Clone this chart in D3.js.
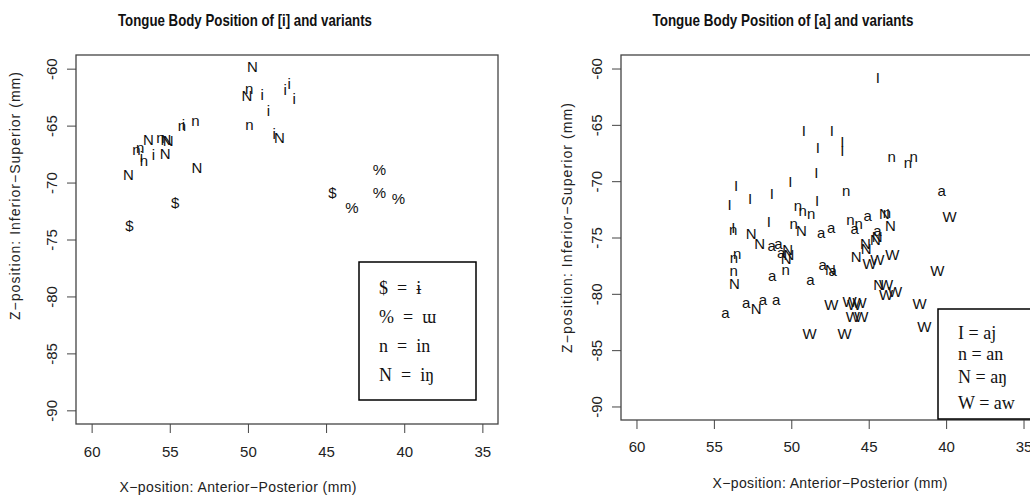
<!DOCTYPE html>
<html>
<head>
<meta charset="utf-8">
<script src="https://cdn.jsdelivr.net/npm/d3@7"></script>
<style>
  body { margin: 0; background: #fff; }
  svg { display: block; }
  .tick text { font-family: "Liberation Sans", Arial, sans-serif; font-size: 15px; fill: #222; }
  .tick line { stroke: #444; }
</style>
</head>
<body>
<script>
// [i] plot: label -> [x, z] positions (mm)
var iPts = [[49.09,-62.31],[47.62,-61.87],[47.36,-61.28],[47.04,-62.6],[48.69,-63.68],
            [48.32,-65.66],[54.13,-64.93],[56.05,-67.56],[56.81,-67.74]];
var inPts = [[49.92,-61.72],[49.91,-64.93],[53.36,-64.52],[54.23,-65.02],[55.6,-66.01],
             [57.13,-67.08],[56.9,-66.95],[56.65,-68.09]];
var ingPts = [[49.71,-59.83],[50.07,-62.39],[47.98,-66.05],[53.27,-68.73],[56.37,-66.25],
              [55.24,-66.25],[55.11,-66.34],[55.3,-67.5],[57.65,-69.32]];
var barredIPts = [[54.66,-71.74],[57.59,-73.79],[44.59,-70.92]];
var uuPts = [[41.58,-68.82],[41.58,-70.87],[40.37,-71.42],[43.35,-72.18]];

// [a] plot
var ajPts = [[44.41,-60.82],[53.56,-70.35],[53.99,-72.06],[52.66,-71.59],[51.26,-71.09],
             [50.07,-70.06],[49.19,-65.49],[47.38,-65.55],[48.29,-67.02],[46.71,-66.52],
             [46.71,-67.26],[48.39,-69.23],[48.33,-71.74],[51.45,-73.6],[53.75,-74.1]];
var anPts = [[43.51,-67.85],[42.47,-68.38],[42.09,-67.79],[46.45,-70.86],[49.58,-72.21],
             [49.26,-72.57],[48.71,-72.92],[49.84,-73.74],[46.18,-73.45],[45.64,-73.81],
             [43.83,-72.81],[53.75,-74.27],[53.49,-76.4],[53.71,-76.75],[53.73,-77.94],
             [50.37,-77.88]];
var angPts = [[43.98,-72.86],[43.59,-73.98],[49.34,-74.4],[44.45,-74.93],[44.56,-75.22],
              [45.21,-75.51],[45.16,-75.96],[45.81,-76.7],[52.59,-74.63],[52.05,-75.51],
              [50.23,-76.11],[50.16,-76.55],[50.33,-76.84],[47.47,-77.88],[53.67,-79.05],
              [44.35,-79.14],[52.27,-81.27]];
var aPts = [[40.28,-70.88],[45.06,-73.1],[45.9,-74.19],[48.07,-74.54],[47.42,-74.1],
            [44.43,-74.42],[51.26,-75.73],[50.83,-75.58],[50.65,-76.31],[47.97,-77.43],
            [47.32,-77.94],[48.76,-78.76],[51.23,-78.41],[52.91,-80.82],[51.84,-80.53],
            [50.98,-80.53],[54.25,-81.65]];
var awPts = [[39.78,-73.16],[44.95,-77.28],[44.45,-76.99],[43.48,-76.55],[40.57,-77.96],
             [43.87,-79.2],[43.87,-80.09],[43.29,-79.8],[41.72,-80.88],[47.42,-80.97],
             [46.24,-80.68],[45.92,-80.97],[45.59,-80.82],[46.03,-82.01],[45.48,-82.06],
             [41.4,-82.89],[48.82,-83.54],[46.56,-83.54]];

var xTicks = [60, 55, 50, 45, 40, 35];
var yTicks = [-60, -65, -70, -75, -80, -85, -90];
var xDomain = [61, 34];
var yDomain = [-91.2, -58.8];

var leftSeries = [
  {sym: "i", pts: iPts}, {sym: "n", pts: inPts}, {sym: "N", pts: ingPts},
  {sym: "$", pts: barredIPts}, {sym: "%", pts: uuPts}
];
var rightSeries = [
  {sym: "I", pts: ajPts}, {sym: "n", pts: anPts}, {sym: "N", pts: angPts},
  {sym: "a", pts: aPts}, {sym: "W", pts: awPts}
];
var leftLegend = ["$\u00a0\u00a0=\u00a0\u00a0\u0268", "%\u00a0\u00a0=\u00a0\u00a0\u026f",
                  "n\u00a0\u00a0=\u00a0\u00a0in", "N\u00a0\u00a0=\u00a0\u00a0i\u014b"];
var rightLegend = ["I = aj", "n = an", "N = a\u014b", "W = aw"];

var svg = d3.select("body").append("svg")
  .attr("width", 1030)
  .attr("height", 495);

function panel(p) {
  var x = d3.scaleLinear().domain(xDomain).range([p.left, p.right]);
  var y = d3.scaleLinear().domain(yDomain).range([p.bottom, p.top]);
  var g = svg.append("g");

  // x axis
  var gx = g.append("g")
    .attr("transform", "translate(0," + p.bottom + ")")
    .call(d3.axisBottom(x).tickValues(xTicks).tickSize(9).tickFormat(d3.format("d")));
  gx.select(".domain").remove();
  gx.selectAll(".tick text").attr("y", p.xLab).attr("dy", "0.35em");

  // y axis, labels parallel to the axis like R
  var gy = g.append("g")
    .attr("transform", "translate(" + p.left + ",0)")
    .call(d3.axisLeft(y).tickValues(yTicks).tickSize(9).tickFormat(function(d) { return String(d); }));
  gy.select(".domain").remove();
  gy.selectAll(".tick text")
    .attr("x", 0).attr("dy", "0.35em")
    .attr("text-anchor", "middle")
    .attr("transform", "translate(-24,0) rotate(-90)");

  // plot box
  g.append("rect")
    .attr("x", p.left).attr("y", p.top)
    .attr("width", p.right - p.left).attr("height", p.bottom - p.top)
    .attr("fill", "none").attr("stroke", "#444").attr("stroke-width", 1.3);

  // points drawn as their symbol
  p.series.forEach(function(s) {
    g.selectAll(null)
      .data(s.pts)
      .enter()
      .append("text")
      .text(s.sym)
      .attr("x", function(d) { return x(d[0]); })
      .attr("y", function(d) { return y(d[1]); })
      .attr("dy", "0.36em")
      .attr("text-anchor", "middle")
      .attr("font-family", "Liberation Sans, Arial, sans-serif")
      .attr("font-size", "15px")
      .attr("fill", "#111");
  });

  // titles
  g.append("text")
    .text(p.title)
    .attr("x", p.titleX).attr("y", 26)
    .attr("text-anchor", "middle")
    .attr("font-family", "Liberation Sans, Arial, sans-serif")
    .attr("font-weight", "bold")
    .attr("font-size", "17px")
    .attr("textLength", p.titleLen)
    .attr("lengthAdjust", "spacingAndGlyphs")
    .attr("fill", "#111");

  g.append("text")
    .text("X\u2212position: Anterior\u2212Posterior (mm)")
    .attr("x", p.xTitleX).attr("y", p.xTitleY)
    .attr("text-anchor", "middle")
    .attr("font-family", "Liberation Sans, Arial, sans-serif")
    .attr("font-size", "14px")
    .attr("textLength", p.xTitleLen)
    .attr("fill", "#222");

  g.append("text")
    .text("Z\u2212position: Inferior\u2212Superior (mm)")
    .attr("transform", "translate(" + p.yTitleX + "," + p.yTitleY + ") rotate(-90)")
    .attr("dy", "0.35em")
    .attr("text-anchor", "middle")
    .attr("font-family", "Liberation Sans, Arial, sans-serif")
    .attr("font-size", "14px")
    .attr("textLength", p.yTitleLen)
    .attr("fill", "#222");

  // legend
  var lg = g.append("g");
  lg.append("rect")
    .attr("x", p.leg.x).attr("y", p.leg.y)
    .attr("width", p.leg.w).attr("height", p.leg.h)
    .attr("fill", "#fff").attr("stroke", "#000").attr("stroke-width", 1.5);
  lg.selectAll(null)
    .data(p.legend)
    .enter()
    .append("text")
    .text(function(d) { return d; })
    .attr("x", p.leg.tx)
    .attr("y", function(d, i) { return p.leg.rows[i]; })
    .attr("dy", "0.35em")
    .attr("font-family", "Liberation Serif, Times New Roman, serif")
    .attr("font-size", "18px")
    .attr("fill", "#111");
}

panel({
  left: 76, right: 498, top: 55, bottom: 424,
  xLab: 28, series: leftSeries, legend: leftLegend,
  title: "Tongue Body Position of [i] and variants", titleX: 245, titleLen: 254,
  xTitleX: 238, xTitleY: 492, xTitleLen: 237,
  yTitleX: 15, yTitleY: 196, yTitleLen: 248,
  leg: {x: 359, y: 262, w: 117, h: 138, tx: 379, rows: [288, 317, 346, 375]}
});

panel({
  left: 621, right: 1039, top: 55, bottom: 420,
  xLab: 27, series: rightSeries, legend: rightLegend,
  title: "Tongue Body Position of [a] and variants", titleX: 783, titleLen: 261,
  xTitleX: 830, xTitleY: 488, xTitleLen: 235,
  yTitleX: 567, yTitleY: 228, yTitleLen: 250,
  leg: {x: 938, y: 309, w: 110, h: 110, tx: 958, rows: [333, 354, 377, 403]}
});
</script>
</body>
</html>
